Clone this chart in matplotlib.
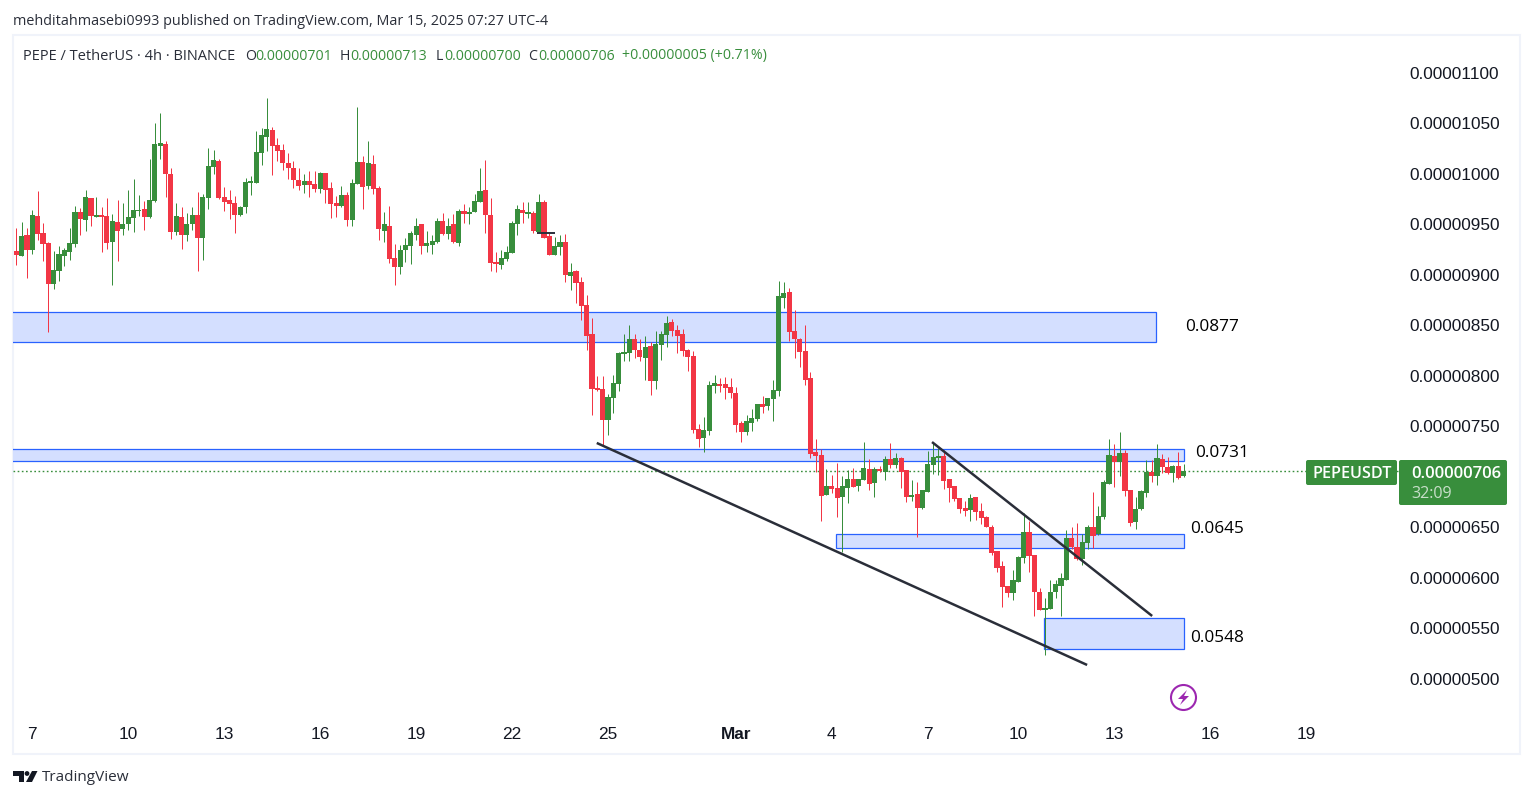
import matplotlib
matplotlib.use("Agg")
import matplotlib.pyplot as plt
from matplotlib.patches import Rectangle, Polygon, Circle, FancyBboxPatch
from matplotlib.ticker import FuncFormatter

# Prices in units of 1e-8 USDT, one entry per 4h candle
OPEN = [924,919,940,925,958,942,932,891,904,919,
        923,931,962,954,976,957,959,958,933,952,
        946,950,956,963,965,957,973,1028,1030,1000,
        943,957,940,950,959,937,976,1007,1013,977,
        974,971,959,967,991,991,1021,1037,1044,1029,
        1024,1011,1006,994,989,993,990,985,1001,986,
        971,968,979,954,990,1012,988,1010,986,944,
        949,917,908,925,929,940,950,929,930,933,
        953,941,950,932,963,960,962,972,984,959,
        913,910,916,922,950,964,960,961,943,972,
        939,920,928,933,899,904,893,870,842,788,
        787,756,778,792,822,823,837,826,818,830,
        795,831,841,853,846,842,826,820,748,739,
        746,790,792,792,789,783,753,745,753,757,
        772,770,777,785,877,883,845,837,825,798,
        725,722,682,691,689,680,689,698,691,697,
        708,694,708,705,718,712,719,707,680,683,
        669,685,712,719,721,698,691,679,669,667,
        680,666,660,650,627,612,592,585,596,620,
        646,623,586,568,569,586,592,598,640,631,
        619,635,650,644,660,693,721,715,724,687,
        655,668,684,705,701,718,710,704,711,701]
CLOSE = [920,939,925,959,941,931,891,905,921,925,
         932,962,955,977,958,959,957,932,953,944,
         950,957,964,964,957,974,1030,1031,1000,943,
         958,940,950,959,937,977,1008,1014,976,972,
         970,959,967,992,993,1022,1039,1045,1028,1023,
         1011,1006,994,988,993,989,985,1001,984,970,
         968,979,954,991,1012,987,1011,985,946,950,
         916,908,925,930,942,949,929,932,934,953,
         941,949,933,963,960,962,973,983,959,912,
         911,917,923,951,965,961,962,944,972,937,
         920,929,933,900,903,892,869,840,787,786,
         756,779,793,823,824,837,826,819,829,795,
         832,842,852,845,840,825,819,747,738,747,
         791,793,790,788,783,751,745,755,758,772,
         769,778,786,879,882,844,837,824,796,723,
         721,681,691,688,679,691,698,690,698,709,
         693,708,706,718,712,719,705,680,682,669,
         687,713,720,721,696,689,678,668,666,679,
         665,659,650,625,610,591,585,598,621,646,
         622,586,568,570,586,594,600,640,631,619,
         636,650,642,661,695,722,715,724,686,654,
         668,686,705,701,719,710,704,711,699,706]
HIGH = [947,952,947,964,983,951,933,924,929,927,
        947,968,966,984,976,977,967,976,960,974,
        971,984,995,979,973,1015,1050,1060,1033,1006,
        971,967,961,967,982,980,1026,1024,1015,987,
        984,978,968,996,998,1043,1046,1075,1047,1036,
        1030,1021,1013,1006,1000,1003,1003,1002,1001,992,
        978,988,982,995,1066,1018,1033,1019,988,962,
        968,931,930,937,944,956,950,944,940,956,
        961,956,960,965,970,967,980,1006,1014,976,
        923,925,929,953,969,972,972,963,980,974,
        942,938,940,941,912,905,898,880,857,800,
        800,782,801,824,842,850,842,837,840,834,
        845,845,859,856,850,847,827,825,752,759,
        795,801,798,799,798,789,755,761,767,772,
        780,778,796,894,893,887,865,838,850,804,
        738,728,708,702,714,701,707,709,698,735,
        718,710,711,721,734,724,720,707,697,695,
        687,726,735,729,727,698,691,679,676,683,
        680,674,661,652,627,617,592,608,622,664,
        656,623,590,580,598,598,605,648,650,654,
        644,652,685,671,697,738,733,745,727,687,
        680,687,717,717,733,723,720,712,725,713]
LOW = [910,919,897,921,935,914,844,886,894,909,
       915,928,940,944,949,957,923,926,890,914,
       940,945,943,958,945,956,972,1015,977,936,
       940,926,934,945,904,915,965,1000,975,963,
       955,942,958,961,979,991,1009,1023,999,1013,
       1004,995,986,984,981,977,982,981,971,956,
       957,967,949,949,990,965,985,980,935,933,
       912,890,901,913,911,935,921,923,921,932,
       940,936,932,929,951,950,962,972,942,904,
       903,906,914,922,940,951,956,942,942,937,
       920,920,920,893,885,872,855,826,761,785,
       732,742,763,785,815,815,818,815,796,781,
       787,816,829,840,823,820,805,744,730,725,
       742,783,784,777,778,745,735,742,746,755,
       763,766,755,780,867,835,818,809,791,719,
       705,656,682,684,660,626,674,690,686,697,
       687,680,705,697,709,709,689,675,676,641,
       668,685,703,702,688,675,676,664,661,656,
       657,653,650,623,606,571,581,578,596,615,
       606,562,568,524,569,580,562,598,629,618,
       613,629,630,643,658,693,690,701,681,651,
       649,667,680,695,692,704,703,695,698,700]

DATE_LABELS = ["7","10","13","16","19","22","25","Mar","4","7","10","13","16","19"]
DATE_CANDLES = [3,21,39,57,75,93,111,135,153,171,188,206,224,242]
PRICE_TICKS = [500,550,600,650,750,800,850,900,950,1000,1050,1100]

ZONE_BOTTOM = [833.7,715.8,629.7,529.7]
ZONE_TOP    = [863.4,727.7,643.6,560.4]
ZONE_START  = [-2,-2,153.7,192.8]
ZONE_END    = [213.9,219,219,219]
ZONE_LABELS = ["0.0877","0.0731","0.0645","0.0548"]
ZONE_LABEL_CANDLE = [219.3,221.2,220.3,220.3]
ZONE_LABEL_PRICE = [848.5,723.7,648.5,540.6]

TREND_A_X = [108.9,200.9]; TREND_A_Y = [733.7,513.9]
TREND_B_X = [171.8,213.1]; TREND_B_Y = [734.6,562.4]
MARK_X = [97.7,101.0];     MARK_Y = [941.4,941.4]
LAST_PRICE = 706

W, H = 1533, 798
GREEN, RED, BLUE = "#388E3C", "#F23645", "#2962FF"
INK = "#131722"
SANS = ["Liberation Sans", "DejaVu Sans"]
UI = ["Open Sans", "DejaVu Sans"]

fig = plt.figure(figsize=(W/100, H/100), dpi=100, facecolor="white")

# furniture layer in pixel coordinates
bg = fig.add_axes([0,0,1,1], zorder=0)
bg.set_xlim(0,W); bg.set_ylim(H,0); bg.axis("off")
bg.add_patch(Rectangle((12.5,34.5),1507.5,719.5,fc="white",ec="#F0F3FA",lw=1.5))

# chart pane
L_PX, R_PX, T_PX, B_PX = 13, 1400, 36, 720
x0, dx = 16.33, 5.33
y_of = lambda py: 1100-(py-73)/1.01
ax = fig.add_axes([L_PX/W, 1-B_PX/H, (R_PX-L_PX)/W, (B_PX-T_PX)/H], zorder=1)
ax.patch.set_alpha(0)
ax.set_xlim((L_PX-x0)/dx, (R_PX-x0)/dx)
ax.set_ylim(y_of(B_PX), y_of(T_PX))
for s in ax.spines.values():
    s.set_visible(False)

ax.yaxis.tick_right()
ax.set_yticks(PRICE_TICKS)
ax.yaxis.set_major_formatter(FuncFormatter(lambda v,_: f"{v*1e-8:.8f}"))
ax.tick_params(axis="y", length=0, pad=7.0, labelsize=12.4, labelcolor=INK)
ax.set_xticks(DATE_CANDLES)
ax.set_xticklabels(DATE_LABELS)
ax.tick_params(axis="x", length=0, pad=5.3, labelsize=12.4, labelcolor=INK)
for t in ax.get_xticklabels()+ax.get_yticklabels():
    t.set_fontfamily(SANS)
ax.get_xticklabels()[7].set_fontweight("bold")

# zones
for b,t,s,e in zip(ZONE_BOTTOM,ZONE_TOP,ZONE_START,ZONE_END):
    ax.add_patch(Rectangle((s,b),e-s,t-b,fc="#D4DFFF",ec=BLUE,lw=0.9,zorder=1))

# last-price line
ax.axhline(LAST_PRICE,color=GREEN,lw=1.0,ls=(0,(1.2,1.8)),zorder=1.5)

# candles
xs = list(range(len(OPEN)))
cols = [GREEN if c>=o else RED for o,c in zip(OPEN,CLOSE)]
wicks = ax.vlines(xs,LOW,HIGH,colors=cols,lw=0.72,zorder=2)
wicks.set_snap(True)
ax.bar(xs,[abs(c-o) for o,c in zip(OPEN,CLOSE)],bottom=[min(o,c) for o,c in zip(OPEN,CLOSE)],
       width=0.96,color=cols,lw=0,zorder=3)

# drawings
ax.plot(TREND_A_X,TREND_A_Y,color="#2A2E39",lw=1.8,zorder=4,solid_capstyle="butt")
ax.plot(TREND_B_X,TREND_B_Y,color="#2A2E39",lw=1.8,zorder=4,solid_capstyle="butt")
ax.plot(MARK_X,MARK_Y,color="#2A2E39",lw=1.4,zorder=4,solid_capstyle="butt")
for lab,cx,py in zip(ZONE_LABELS,ZONE_LABEL_CANDLE,ZONE_LABEL_PRICE):
    ax.text(cx,py,lab,fontsize=12.4,family=UI,color="black",ha="left",va="center",zorder=5)

# overlay layer in pixel coordinates
ov = fig.add_axes([0,0,1,1], zorder=2)
ov.set_xlim(0,W); ov.set_ylim(H,0); ov.axis("off"); ov.patch.set_alpha(0)

ov.text(13,21.5,"mehditahmasebi0993 published on TradingView.com, Mar 15, 2025 07:27 UTC-4",
        fontsize=10.34,family=UI,color="#2A2E39",va="center",ha="left")
for x,s,c,fs in [(23,"PEPE / TetherUS · 4h · BINANCE","#2A2E39",10.55),
                 (245,"O","#2A2E39",10.2),(255,"0.00000701",GREEN,10.2),
                 (340,"H","#2A2E39",10.2),(350,"0.00000713",GREEN,10.2),
                 (436,"L","#2A2E39",10.2),(444,"0.00000700",GREEN,10.2),
                 (528,"C","#2A2E39",10.2),(538,"0.00000706",GREEN,10.2),
                 (622,"+0.00000005 (+0.71%)",GREEN,10.2)]:
    ov.text(x,56,s,fontsize=fs,family=UI,color=c,va="center",ha="left")

# price tags
ov.add_patch(FancyBboxPatch((1306,460),91,25,boxstyle="round,pad=0,rounding_size=2",fc=GREEN,ec="none"))
ov.add_patch(FancyBboxPatch((1399,460),108,45,boxstyle="round,pad=0,rounding_size=2",fc=GREEN,ec="none"))
ov.text(1352,474.5,"PEPEUSDT",fontsize=11.7,family=UI,weight="semibold",color="white",ha="center",va="center")
ov.text(1501,474.5,"0.00000706",fontsize=12.0,family=UI,weight="semibold",color="white",ha="right",va="center")
ov.text(1411,494,"32:09",fontsize=11.6,family=UI,color="#C8DEC9",ha="left",va="center")

# lightning icon
ov.add_patch(Circle((1183.5,697.5),12.5,fc="white",ec="#9C27B0",lw=1.5))
ov.add_patch(Polygon([(1187,690),(1178,699),(1183,699),(1180,705),(1189,696),(1184,696)],fc="#9C27B0",ec="none"))

# TradingView logo
ov.add_patch(Polygon([(13,771),(24,771),(24,782),(19,782),(19,776),(13,776)],fc=INK,ec="none"))
ov.add_patch(Circle((27,773.5),2.4,fc=INK,ec="none"))
ov.add_patch(Polygon([(32,771),(37.5,771),(32,782),(26,782)],fc=INK,ec="none"))
ov.text(42,777.5,"TradingView",fontsize=11.0,family=UI,color="#2A2E39",va="center",ha="left")

fig.savefig("out.png",dpi=100,facecolor="white")
